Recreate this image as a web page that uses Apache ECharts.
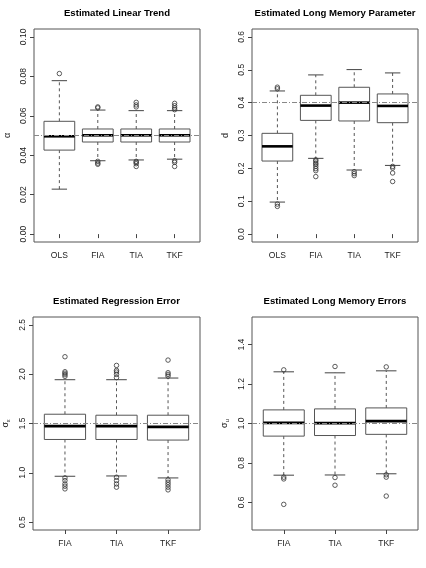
<!DOCTYPE html>
<html><head><meta charset="utf-8">
<script src="https://cdn.jsdelivr.net/npm/echarts@6/dist/echarts.min.js"></script>
<style>html,body{margin:0;padding:0;background:#fff}#c{width:426px;height:568px}</style>
</head><body><div id="c"></div>
<script>
// ---------- data ----------
const titles = ["Estimated Linear Trend","Estimated Long Memory Parameter","Estimated Regression Error","Estimated Long Memory Errors"];
const cats1 = ["OLS","FIA","TIA","TKF"];
const cats2 = ["OLS","FIA","TIA","TKF"];
const cats3 = ["FIA","TIA","TKF"];
const cats4 = ["FIA","TIA","TKF"];
// five-number summaries: [lower whisker, Q1, median, Q3, upper whisker]
const box1 = [[0.0228,0.0426,0.0496,0.0572,0.0778],[0.0372,0.0467,0.0501,0.0533,0.0629],[0.0376,0.0467,0.0501,0.0533,0.0626],[0.0380,0.0467,0.0501,0.0533,0.0626]];
const box2 = [[0.0975,0.2223,0.267,0.3066,0.4355],[0.2305,0.346,0.391,0.4223,0.4843],[0.195,0.3442,0.400,0.4467,0.5005],[0.209,0.339,0.390,0.4264,0.4904]];
const box3 = [[0.965,1.338,1.473,1.594,1.944],[0.968,1.338,1.473,1.584,1.944],[0.948,1.332,1.466,1.584,1.961]];
const box4 = [[0.738,0.936,1.003,1.069,1.262],[0.739,0.939,1.002,1.074,1.257],[0.745,0.945,1.012,1.079,1.267]];
// outliers per category
const out1 = [[0.0814],[0.0645,0.0640,0.0369,0.0360,0.0354],[0.0668,0.0655,0.0645,0.0369,0.0364,0.0357,0.0343],[0.0663,0.0651,0.0640,0.0631,0.0372,0.0364,0.0343]];
const out2 = [[0.447,0.442,0.0914,0.0843],[0.226,0.222,0.216,0.212,0.206,0.199,0.193,0.175],[0.190,0.184,0.178],[0.206,0.201,0.186,0.160]];
const out3 = [[2.177,2.025,2.010,1.995,1.978,0.948,0.921,0.887,0.864,0.837],[2.089,2.039,2.022,1.998,1.965,0.955,0.921,0.887,0.854],[2.143,2.015,1.998,1.980,0.928,0.904,0.880,0.854,0.827]];
const out4 = [[1.272,0.728,0.719,0.590],[1.289,0.726,0.687],[1.287,0.740,0.728,0.632]];
const refs = [0.05, 0.4, 1.5, 1.0];
const yTicks1 = [0,0.02,0.04,0.06,0.08,0.10];
const yTicks2 = [0,0.1,0.2,0.3,0.4,0.5,0.6];
const yTicks3 = [0.5,1.0,1.5,2.0,2.5];
const yTicks4 = [0.6,0.8,1.0,1.2,1.4];
const yRange1 = [-0.004,0.104], yRange2 = [-0.024,0.624], yRange3 = [0.42,2.58], yRange4 = [0.46,1.54];
const yDigits = [2,1,1,1];

// ---------- layout ----------
const grids = [
  {left:34, top:29, width:166, height:213},
  {left:252, top:29, width:166, height:213},
  {left:33, top:317, width:167, height:213},
  {left:252, top:317, width:166, height:213}
];
const panels = [
  {cats:cats1, box:box1, out:out1, ticks:yTicks1, range:yRange1, name:'α', sub:''},
  {cats:cats2, box:box2, out:out2, ticks:yTicks2, range:yRange2, name:'d', sub:''},
  {cats:cats3, box:box3, out:out3, ticks:yTicks3, range:yRange3, name:'σ', sub:'ε'},
  {cats:cats4, box:box4, out:out4, ticks:yTicks4, range:yRange4, name:'σ', sub:'u'}
];
const FONT = 'Liberation Sans, Arial, sans-serif';
const xAxes=[], yAxes=[], series=[], graphics=[];
panels.forEach((p,k)=>{
  const n = p.cats.length, ext = 0.04*n;
  const xs = p.cats.map((c,i)=>i+1);
  xAxes.push({type:'value', gridIndex:k, min:0.5-ext, max:n+0.5+ext,
    axisLine:{show:false}, splitLine:{show:false},
    axisTick:{show:true, length:4, lineStyle:{color:'#444'}, customValues:xs},
    axisLabel:{customValues:xs, margin:9, fontSize:8.5, color:'#222', fontFamily:FONT,
      formatter:(v)=>p.cats[Math.round(v)-1]||''}});
  yAxes.push({type:'value', gridIndex:k, min:p.range[0], max:p.range[1],
    axisLine:{show:false}, splitLine:{show:false},
    axisTick:{show:true, length:4, lineStyle:{color:'#444'}, customValues:p.ticks},
    axisLabel:{customValues:p.ticks, rotate:90, margin:6, fontSize:8.5, color:'#222', fontFamily:FONT,
      formatter:(v)=>v.toFixed(yDigits[k])},
    name: p.sub ? '{a|'+p.name+'}{b|'+p.sub+'}' : p.name,
    nameLocation:'middle', nameRotate:90, nameGap:22,
    nameTextStyle:{fontSize:9, color:'#222', fontFamily:FONT,
      rich:{a:{fontSize:9,color:'#222',fontFamily:FONT}, b:{fontSize:6,color:'#222',fontFamily:FONT,verticalAlign:'bottom',padding:[4,0,0,0]}}}
  });
  const boxData = p.box.map((b,i)=>[i+1].concat(b));
  series.push({type:'custom', xAxisIndex:k, yAxisIndex:k, data:boxData, silent:true,
    renderItem:(params, api)=>{
      const x=api.value(0), lo=api.value(1), q1=api.value(2), md=api.value(3), q3=api.value(4), hi=api.value(5);
      const L=api.coord([x-0.4,md])[0], R=api.coord([x+0.4,md])[0];
      const sL=api.coord([x-0.2,md])[0], sR=api.coord([x+0.2,md])[0];
      const cx=api.coord([x,md])[0];
      const y=(v)=>api.coord([x,v])[1];
      const dash={stroke:'#444', lineWidth:0.9, lineDash:[3,3]};
      const solid={stroke:'#444', lineWidth:1};
      return {type:'group', children:[
        {type:'line', shape:{x1:cx,y1:y(q3),x2:cx,y2:y(hi)}, style:dash},
        {type:'line', shape:{x1:cx,y1:y(q1),x2:cx,y2:y(lo)}, style:dash},
        {type:'line', shape:{x1:sL,y1:y(hi),x2:sR,y2:y(hi)}, style:solid},
        {type:'line', shape:{x1:sL,y1:y(lo),x2:sR,y2:y(lo)}, style:solid},
        {type:'rect', shape:{x:L,y:y(q3),width:R-L,height:y(q1)-y(q3)}, style:{fill:'#fff',stroke:'#555',lineWidth:1}},
        {type:'line', shape:{x1:L,y1:y(md),x2:R,y2:y(md)}, style:{stroke:'#000',lineWidth:2.6}}
      ]};
    },
    markLine:{silent:true, symbol:'none', label:{show:false},
      lineStyle:{color:'#888', width:1, type:[5,2,1,2]}, data:[{yAxis:refs[k]}]},
    z:3
  });
  const pts=[];
  p.out.forEach((arr,i)=>arr.forEach(v=>pts.push([i+1,v])));
  series.push({type:'scatter', xAxisIndex:k, yAxisIndex:k, data:pts, symbol:'circle', symbolSize:4.5,
    itemStyle:{color:'rgba(0,0,0,0)', borderColor:'#333', borderWidth:0.8, opacity:1}, silent:true, z:4});
  graphics.push({type:'text', x:grids[k].left+grids[k].width/2, y:k<2?13:301,
    style:{text:titles[k], font:'bold 9.6px '+FONT, fill:'#000', textAlign:'center', textVerticalAlign:'middle'}});
});
const chart = echarts.init(document.getElementById('c'), null, {renderer:'canvas'});
chart.setOption({
  animation:false,
  grid: grids.map(g=>Object.assign({show:true, borderColor:'#555', borderWidth:1, backgroundColor:'transparent'}, g)),
  xAxis:xAxes, yAxis:yAxes, series:series, graphic:graphics
});
</script></body></html>
